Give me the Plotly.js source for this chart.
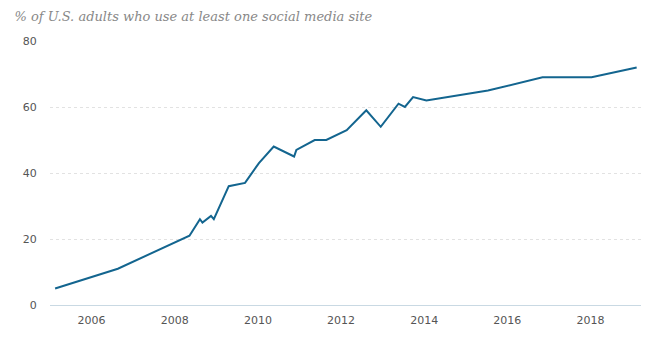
<!DOCTYPE html>
<html>
<head>
<meta charset="utf-8">
<script src="https://cdn.plot.ly/plotly-3.0.1.min.js"></script>
<style>html,body{margin:0;padding:0;background:#fff;}#chart{width:661px;height:355px;}</style>
</head>
<body>
<div id="chart"></div>
<script>
var surveyDates = ["2005-02-15","2006-08-20","2008-05-10","2008-08-10","2008-09-01","2008-11-15","2008-12-10","2009-04-20","2009-09-10","2010-01-10","2010-05-20","2010-11-15","2010-12-05","2011-05-15","2011-08-25","2012-02-20","2012-08-10","2012-12-15","2013-05-20","2013-07-15","2013-09-25","2014-01-20","2015-07-15","2016-11-05","2018-01-10","2019-02-10"];
var pctUsingSocialMedia = [5, 11, 21, 26, 25, 27, 26, 36, 37, 43, 48, 45, 47, 50, 50, 53, 59, 54, 61, 60, 63, 62, 65, 69, 69, 72];
var yTickValues = [0, 20, 40, 60, 80];
var chartTitle = "% of U.S. adults who use at least one social media site";

var trace = {
  x: surveyDates,
  y: pctUsingSocialMedia,
  type: "scatter",
  mode: "lines",
  line: {color: "#13658f", width: 2},
  hoverinfo: "x+y"
};

var layout = {
  width: 661, height: 355,
  margin: {l: 50, r: 20, t: 41, b: 50},
  paper_bgcolor: "#fff", plot_bgcolor: "#fff",
  showlegend: false,
  title: {
    text: chartTitle,
    font: {family: "DejaVu Serif", size: 13, color: "#888888", style: "italic"},
    x: 0.022, xanchor: "left", y: 0.955, yanchor: "middle"
  },
  xaxis: {
    type: "date",
    range: ["2005-01-01", "2019-03-20"],
    dtick: "M24", tick0: "2006-01-01", tickformat: "%Y",
    showgrid: false, zeroline: false,
    showline: true, linecolor: "#c9d9e3", linewidth: 1,
    ticks: "outside", ticklen: 5, tickcolor: "rgba(0,0,0,0)",
    tickfont: {family: "DejaVu Sans", size: 11, color: "#555"}
  },
  yaxis: {
    range: [0, 80],
    tickvals: yTickValues,
    showgrid: true, gridcolor: "#e2e2e2", griddash: "dot", gridwidth: 1,
    zeroline: false, showline: false,
    ticks: "outside", ticklen: 10, tickcolor: "rgba(0,0,0,0)",
    tickfont: {family: "DejaVu Sans", size: 11, color: "#555"}
  }
};

Plotly.newPlot("chart", [trace], layout, {displayModeBar: false, staticPlot: true});
</script>
</body>
</html>
